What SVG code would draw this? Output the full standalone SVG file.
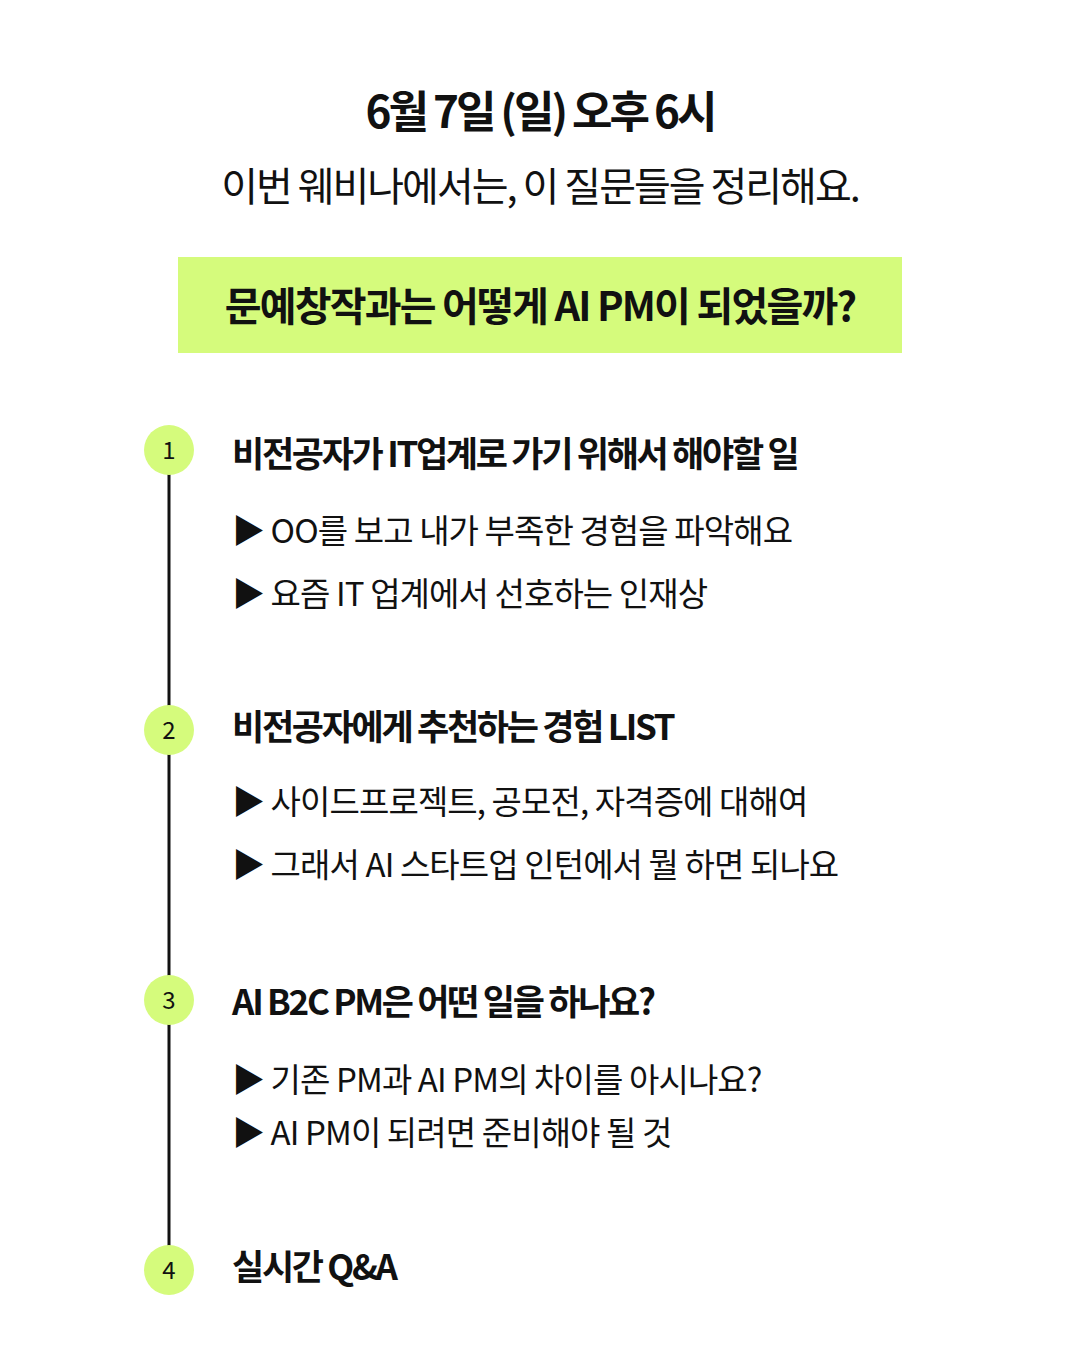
<svg xmlns="http://www.w3.org/2000/svg" width="1080" height="1350" viewBox="0 0 1080 1350">
<style>
text{font-family:"Noto Sans CJK KR","Noto Sans",sans-serif;fill:#111}
.t{font-size:44px;font-weight:700;letter-spacing:-3px}
.s{font-size:40px;font-weight:400;letter-spacing:-2px}
.q{font-size:40px;font-weight:700;letter-spacing:-1.8px}
.h{font-size:35px;font-weight:700;letter-spacing:-2.3px}
.b{font-size:33px;font-weight:400;letter-spacing:-0.9px}
.n{font-size:24px;font-weight:400}
.c{fill:#d5fb7c}
</style>
<rect width="1080" height="1350" fill="#fff"/>
<g id="header">
<text class="t" x="540" y="128" text-anchor="middle">6월 7일 (일) 오후 6시</text>
<text class="s" x="540" y="201" text-anchor="middle">이번 웨비나에서는, 이 질문들을 정리해요.</text>
</g>
<g id="question">
<rect class="c" x="178" y="257" width="724" height="96"/>
<text class="q" x="540" y="321" text-anchor="middle">문예창작과는 어떻게 AI PM이 되었을까?</text>
</g>
<g id="connectors"><line x1="169" y1="450" x2="169" y2="1270" stroke="#111" stroke-width="3"/></g>
<g id="step1">
<circle class="c" cx="169" cy="450" r="25"/><text class="n" x="169" y="459" text-anchor="middle">1</text>
<text class="h" x="232" y="467">비전공자가 IT업계로 가기 위해서 해야할 일</text>
<text class="b" x="232" y="543">▶ OO를 보고 내가 부족한 경험을 파악해요</text>
<text class="b" x="232" y="606">▶ 요즘 IT 업계에서 선호하는 인재상</text>
</g>
<g id="step2">
<circle class="c" cx="169" cy="730" r="25"/><text class="n" x="169" y="739" text-anchor="middle">2</text>
<text class="h" x="232" y="740">비전공자에게 추천하는 경험 LIST</text>
<text class="b" x="232" y="814">▶ 사이드프로젝트, 공모전, 자격증에 대해여</text>
<text class="b" x="232" y="877">▶ 그래서 AI 스타트업 인턴에서 뭘 하면 되나요</text>
</g>
<g id="step3">
<circle class="c" cx="169" cy="1000" r="25"/><text class="n" x="169" y="1009" text-anchor="middle">3</text>
<text class="h" x="232" y="1015">AI B2C PM은 어떤 일을 하나요?</text>
<text class="b" x="232" y="1092">▶ 기존 PM과 AI PM의 차이를 아시나요?</text>
<text class="b" x="232" y="1145">▶ AI PM이 되려면 준비해야 될 것</text>
</g>
<g id="step4">
<circle class="c" cx="169" cy="1270" r="25"/><text class="n" x="169" y="1279" text-anchor="middle">4</text>
<text class="h" x="232" y="1280">실시간 Q&amp;A</text>
</g>
</svg>
